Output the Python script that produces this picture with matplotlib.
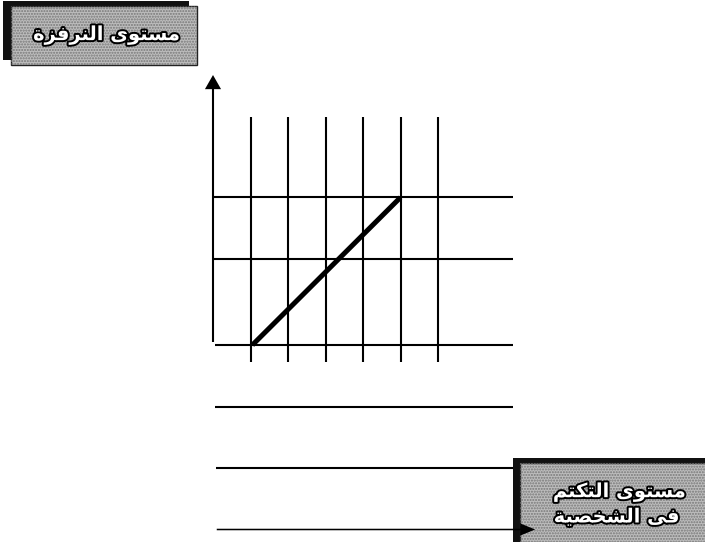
import matplotlib.pyplot as plt
import matplotlib.patheffects as pe
from matplotlib.patches import Rectangle, FancyArrow

# diagram values (x in grid steps from the vertical axis, y in row units)
grid_x = [1, 2, 3, 4, 5, 6]
grid_top, grid_bottom = 3.7, -0.28
row_y = [2.4, 1.4, 0.0, -1.0, -2.0, -3.0]
row_left = [0.0, 0.0, 0.05, 0.05, 0.07, 0.1]
row_right = 8.0
arrow_tip_x = 8.59
axis_top = 4.39
rise_x = [1.05, 5.0]
rise_y = [0.0, 2.4]

# Arabic labels, shaped (presentation forms) and in visual order
label_y = "\uFE93\uFEB0\uFED3\uFEAE\uFEE8\uFEDF\uFE8D \uFEEF\uFEEE\uFE98\uFEB4\uFEE3"      # مستوى النرفزة
label_x1 = "\uFEE2\uFE98\uFEDC\uFE98\uFEDF\uFE8D \uFEEF\uFEEE\uFE98\uFEB4\uFEE3"           # مستوى التكتم
label_x2 = "\uFE94\uFEF4\uFEBC\uFEA8\uFEB8\uFEDF\uFE8D \uFEF0\uFED3"                       # في الشخصية

W, H = 705, 542
fig = plt.figure(figsize=(W / 100, H / 100), dpi=100)
ax = fig.add_axes([0, 0, 1, 1])
# 213 px = vertical axis, 37.5 px per column, 345 px = base row, 61.5 px per row
ax.set_xlim(-213 / 37.5, (W - 213) / 37.5)
ax.set_ylim(345 / 61.5 - H / 61.5, 345 / 61.5)
ax.axis('off')

lw = 1.5
for gx in grid_x:
    ax.plot([gx, gx], [grid_bottom, grid_top], color='black', lw=lw, solid_capstyle='butt')
for y, x0 in zip(row_y[:-1], row_left[:-1]):
    ax.plot([x0, row_right], [y, y], color='black', lw=lw, solid_capstyle='butt')

# vertical axis with arrow
head_len = 0.23
ax.plot([0, 0], [0.05, axis_top - head_len], color='black', lw=lw, solid_capstyle='butt')
ax.add_patch(FancyArrow(0, axis_top - head_len, 0, head_len, width=0, head_width=0.43,
                        head_length=head_len, color='black', length_includes_head=True, lw=0))

# diagonal
ax.plot(rise_x, rise_y, color='black', lw=3.6, solid_capstyle='butt')

# overlay in pixel units for the label boxes
ov = fig.add_axes([0, 0, 1, 1])
ov.set_xlim(0, W)
ov.set_ylim(H, 0)
ov.axis('off')
ov.patch.set_alpha(0)


def label_box(x0, y0, x1, y1, dx, dy):
    ov.add_patch(Rectangle((x0, y0), x1 - x0, y1 - y0, facecolor='#111111', edgecolor='none'))
    ov.add_patch(Rectangle((x0 + dx, y0 + dy), x1 - x0, y1 - y0, facecolor='#bdbdbd',
                           edgecolor='#222222', lw=1.0))
    ov.add_patch(Rectangle((x0 + dx, y0 + dy), x1 - x0, y1 - y0, facecolor='none',
                           edgecolor='#777777', lw=0, hatch='......'))


label_box(3, 1, 189, 60, 8, 5)
label_box(513, 458, 712, 550, 7, 5)

stroke = [pe.withStroke(linewidth=2.8, foreground='black')]
txt = dict(color='white', fontsize=14, fontweight='bold', family='DejaVu Sans',
           ha='center', va='center', path_effects=stroke)
ov.text(107, 35, label_y, **txt)
ov.text(620, 492, label_x1, **txt)
ov.text(617, 517, label_x2, **txt)

# bottom axis with arrow head drawn over the box edge
ax.add_patch(FancyArrow(row_left[-1], row_y[-1], arrow_tip_x - row_left[-1], 0,
                        width=0.025, head_width=0.2, head_length=0.4, color='black',
                        length_includes_head=True, lw=0, zorder=5))
ax.set_zorder(2)
ax.patch.set_alpha(0)
ov.set_zorder(1)

fig.savefig('out.png', dpi=100)
